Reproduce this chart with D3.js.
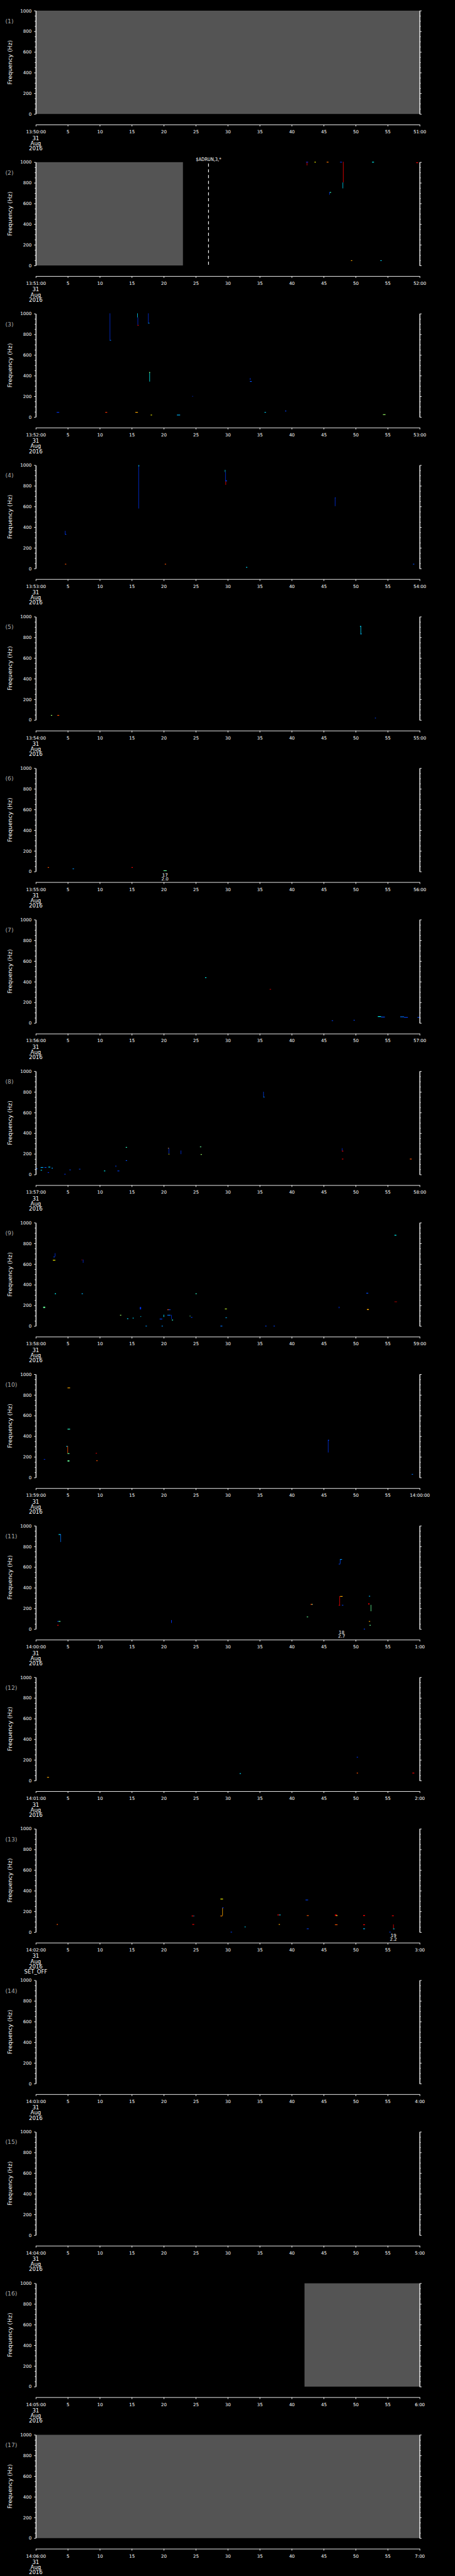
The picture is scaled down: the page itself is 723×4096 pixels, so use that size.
<!DOCTYPE html>
<html>
<head>
<meta charset="utf-8">
<script src="https://cdn.jsdelivr.net/npm/d3@7"></script>
<style>
  body { margin: 0; background: #000; }
  svg { display: block; }
  text { font-family: "DejaVu Sans", sans-serif; fill: #fff; }
</style>
</head>
<body>
<svg id="chart"></svg>
<script>
// ---- data ----
const panelStarts = ['13:50:00','13:51:00','13:52:00','13:53:00','13:54:00','13:55:00','13:56:00','13:57:00','13:58:00',
  '13:59:00','14:00:00','14:01:00','14:02:00','14:03:00','14:04:00','14:05:00','14:06:00'];
const panelEnds = ['51:00','52:00','53:00','54:00','55:00','56:00','57:00','58:00','59:00',
  '14:00:00','1:00','2:00','3:00','4:00','5:00','6:00','7:00'];
const dateLines = ['31', 'Aug', '2016'];
const timeTicks = [0, 5, 10, 15, 20, 25, 30, 35, 40, 45, 50, 55, 60];
const freqTicks = [0, 200, 400, 600, 800, 1000];
const freqMinorTicks = d3.range(0, 1001, 50).filter(f => f % 200 !== 0);

// grey "no data" spans: [panel, t0, t1]
const noData = [[1, 0, 60], [2, 0, 23], [16, 42, 60], [17, 0, 60]];
// event markers: [panel, t, label]
const events = [[2, 27, '$ADRUN,3,*']];
// small two-line notes under the plot: [panel, t, line1, line2]
const notes = [[6, 20.2, '17', '2.0'], [11, 47.8, '18', '2.7'], [13, 55.9, '19', '2.2']];
const footNotes = [[13, 'SET_OFF']];

// signal pixels per panel: [t0, t1, fLow, fHigh, level 0..1]
const sig02 = [[42.4,42.4,965,1000,0.9],[42.3,42.6,1000,1000,0.15],[43.6,43.8,1000,1000,0.75],[45.5,45.8,1000,1000,0.83],
  [45.9,45.9,681,707,0.15],[46.0,46.2,707,707,0.55],[47.6,47.9,1000,1000,0.15],[48.05,48.05,800,1000,0.9],
  [48.0,48.0,743,800,0.45],[52.6,52.9,1000,1000,0.5],[59.5,59.8,995,995,0.9],[49.3,49.5,47,47,0.8],[53.9,54.1,47,47,0.45]];
const sig03 = [[11.6,11.6,742,1000,0.15],[11.6,11.8,742,742,0.3],[15.9,15.9,960,1000,0.45],[15.95,15.95,887,960,0.15],
  [15.95,16.1,887,887,0.9],[17.6,17.6,908,1000,0.15],[17.6,17.8,908,908,0.35],[17.8,17.8,339,431,0.5],
  [17.75,17.9,431,431,0.65],[33.5,33.5,355,374,0.15],[33.5,33.8,344,344,0.25],[24.5,24.6,200,200,0.15],
  [3.3,3.7,45,45,0.15],[10.9,11.2,45,45,0.87],[15.6,16.0,45,45,0.8],[18.0,18.2,19,19,0.75],[22.1,22.6,19,19,0.4],
  [35.8,36.0,45,45,0.45],[39.0,39.2,58,58,0.2],[54.3,54.7,23,23,0.65]];
const sig04 = [[16.1,16.1,577,997,0.15],[16.1,16.2,985,997,0.45],[29.6,29.6,930,952,0.45],[29.65,29.65,842,930,0.15],
  [29.7,29.7,806,842,0.9],[29.7,29.9,840,850,0.2],[46.8,46.8,600,684,0.15],[46.8,46.9,684,684,0.2],
  [4.6,4.6,331,361,0.15],[4.6,4.8,331,331,0.2],[4.6,4.8,42,42,0.85],[20.2,20.4,42,42,0.85],[32.9,33.1,11,11,0.45],
  [59.0,59.2,42,42,0.25]];
const sig05 = [[50.8,50.8,826,906,0.45],[50.7,50.9,906,906,0.45],[50.8,50.95,826,835,0.4],[2.4,2.6,45,45,0.65],
  [3.4,3.7,45,45,0.85],[53.05,53.2,19,19,0.2]];
const sig06 = [[1.9,2.1,39,39,0.85],[5.8,6.0,26,26,0.35],[15.0,15.2,39,39,0.9],[20.0,20.5,8,8,0.6]];
const sig07 = [[26.5,26.7,439,439,0.5],[36.6,36.8,326,326,0.95],[46.3,46.5,23,23,0.2],[49.7,49.9,27,27,0.2],
  [53.5,54.0,62,62,0.5],[54.0,54.6,58,58,0.25],[57.0,57.6,60,60,0.3],[57.6,58.2,52,55,0.2],[59.7,60,55,55,0.25]];
const sig08 = [[35.6,35.6,750,798,0.2],[35.6,35.8,750,750,0.3],[14.1,14.3,263,263,0.55],[14.1,14.3,135,135,0.25],
  [20.8,20.8,197,255,0.15],[20.7,20.8,255,255,0.8],[20.8,20.9,197,197,0.75],[22.7,22.7,194,229,0.15],
  [25.7,25.9,268,268,0.6],[25.8,26.0,194,194,0.65],[47.9,47.9,227,252,0.15],[47.9,48.1,227,227,0.9],
  [47.9,48.1,150,150,0.9],[58.5,58.8,150,150,0.85],[0.1,0.3,48,56,0.3],[0.8,1.2,68,68,0.4],[1.4,1.7,68,68,0.25],
  [2.0,2.3,72,72,0.45],[2.5,2.7,55,62,0.35],[0.8,1.0,42,42,0.45],[1.9,2.1,19,19,0.15],[4.5,4.7,3,3,0.15],
  [5.3,5.5,39,45,0.2],[6.8,7.0,52,52,0.2],[10.7,10.9,35,35,0.5],[12.5,12.6,71,84,0.2],[12.8,13.1,35,35,0.2]];
const sig09 = [[3.0,3.0,669,702,0.15],[2.8,3.0,669,669,0.2],[2.7,3.1,637,637,0.75],[7.2,7.3,640,640,0.95],
  [7.4,7.4,608,640,0.15],[3.0,3.2,306,313,0.5],[7.2,7.4,313,313,0.4],[1.2,1.5,171,184,0.6],[16.3,16.5,158,181,0.15],
  [20.6,21.1,152,158,0.2],[20.6,20.8,158,158,0.85],[13.2,13.4,105,105,0.65],[14.3,14.5,71,71,0.45],
  [15.2,15.3,68,79,0.45],[16.4,16.5,92,92,0.45],[19.4,19.8,68,68,0.2],[20.0,20.1,84,106,0.45],[20.6,21.1,100,105,0.3],
  [21.2,21.2,63,105,0.15],[21.3,21.5,55,58,0.55],[24.1,24.2,97,97,0.6],[24.3,24.5,81,84,0.2],[25.0,25.2,313,313,0.55],
  [29.6,29.9,166,166,0.7],[29.7,29.9,81,81,0.4],[17.2,17.4,0,0,0.35],[19.7,19.9,0,0,0.35],[28.9,29.2,0,0,0.3],
  [35.9,36.1,0,0,0.2],[37.2,37.4,0,0,0.2],[47.4,47.5,169,184,0.15],[51.7,52.0,311,318,0.25],[51.8,52.1,152,161,0.8],
  [56.1,56.4,879,879,0.5],[56.1,56.5,235,235,1.0]];
const sig10 = [[5.0,5.4,868,868,0.8],[5.0,5.4,465,469,0.55],[4.8,5.0,302,302,0.45],[5.0,5.0,232,302,0.85],
  [5.0,5.3,232,232,0.6],[9.4,9.6,235,235,0.95],[5.0,5.3,152,163,0.6],[9.5,9.7,163,163,0.85],[1.3,1.5,176,176,0.15],
  [45.7,45.7,239,361,0.15],[45.7,45.9,361,361,0.2],[58.8,59.0,31,31,0.3]];
const sig11 = [[3.6,3.9,915,915,0.45],[3.9,3.9,839,915,0.3],[47.6,47.6,629,674,0.25],[47.6,47.9,674,674,0.35],
  [47.4,47.6,629,629,0.2],[47.5,47.5,231,315,0.9],[47.6,48.0,316,316,0.8],[47.4,47.6,231,231,0.9],
  [47.9,48.1,231,231,0.2],[52.1,52.3,318,318,0.4],[52.0,52.2,235,245,0.9],[52.4,52.4,169,231,0.6],
  [43.0,43.3,231,239,0.85],[43.2,43.3,239,239,0.55],[42.4,42.6,118,118,0.6],[3.4,3.6,74,74,0.15],[3.6,3.9,74,74,0.6],
  [3.4,3.6,37,37,0.9],[21.2,21.3,56,84,0.15],[52.1,52.3,74,74,0.8],[52.2,52.4,37,37,0.6],[51.3,51.5,0,0,0.2]];
const sig12 = [[50.2,50.4,226,226,0.15],[1.8,2.1,31,31,0.8],[31.9,32.1,68,68,0.45],[50.2,50.4,73,73,0.85],
  [58.9,59.2,73,73,0.9]];
const sig13 = [[3.3,3.5,74,74,0.85],[24.4,24.7,153,156,0.9],[24.7,24.8,156,156,0.4],[24.5,24.8,74,74,0.9],
  [28.9,29.3,316,320,0.75],[29.2,29.2,156,235,0.8],[29.2,29.4,235,235,0.15],[28.9,29.2,156,156,0.82],
  [30.5,30.7,0,0,0.2],[32.7,32.8,42,52,0.45],[37.8,38.1,160,166,0.9],[38.1,38.3,166,166,0.45],[38.0,38.2,74,74,0.8],
  [42.2,42.6,311,311,0.2],[42.4,42.7,153,160,0.85],[42.4,42.7,32,32,0.2],[46.8,47.1,153,166,0.9],
  [47.0,47.2,160,160,0.7],[46.8,47.2,71,71,0.85],[51.2,51.5,153,161,0.9],[51.2,51.5,71,71,0.9],
  [51.2,51.5,32,32,0.4],[55.7,56.0,158,158,0.9],[55.9,55.9,31,71,0.9],[55.9,56.1,31,31,0.45],[55.3,55.5,0,0,0.2]];
const signals = [[], sig02, sig03, sig04, sig05, sig06, sig07, sig08, sig09, sig10, sig11, sig12, sig13, [], [], [], []];

// ---- layout (reference pixels; viewBox scales to the window) ----
const W = 1024, H = 5802;
const top0 = 24, step = 341.25, plotH = 232.7, axisGap = 24;

const svg = d3.select('#chart')
    .attr('width', 723)
    .attr('height', 4096)
    .attr('viewBox', `0 0 ${W} ${H}`);

svg.append('rect').attr('width', W).attr('height', H).attr('fill', '#000');

const x = d3.scaleLinear().domain([0, 60]).range([80.5, 944.5]);
const y = d3.scaleLinear().domain([0, 1000]).range([plotH, 0]);
const color = d3.scaleLinear()
    .domain([0, 0.25, 0.5, 0.75, 0.9, 1])
    .range(['#0000c0', '#0050ff', '#00ffff', '#ffff00', '#ff0000', '#900000']);

function styleAxis(g) {
  g.selectAll('path, line').attr('stroke', '#fff').attr('stroke-width', 1.3);
  g.selectAll('text').attr('fill', '#fff').attr('font-family', '"DejaVu Sans", sans-serif');
}

panelStarts.forEach((startLabel, i) => {
  const k = i + 1;
  const g = svg.append('g').attr('transform', `translate(0,${top0 + i * step})`);

  // grey no-data blocks
  noData.filter(d => d[0] === k).forEach(d => {
    g.append('rect')
        .attr('x', x(d[1])).attr('width', x(d[2]) - x(d[1]))
        .attr('y', 0).attr('height', plotH)
        .attr('fill', '#545454');
  });

  // spectrogram pixels
  g.append('g').selectAll('rect')
      .data(signals[i])
      .join('rect')
      .attr('x', d => x(d[0]) - 0.55)
      .attr('width', d => Math.max(x(d[1]) - x(d[0]), 1.1))
      .attr('y', d => y(d[3]) - 0.8)
      .attr('height', d => Math.max(y(d[2]) - y(d[3]), 1.6))
      .attr('fill', d => color(d[4]));

  // event markers
  events.filter(d => d[0] === k).forEach(d => {
    g.append('line')
        .attr('x1', x(d[1])).attr('x2', x(d[1]))
        .attr('y1', 3).attr('y2', plotH)
        .attr('stroke', '#fff').attr('stroke-width', 1.6)
        .attr('stroke-dasharray', '7,6');
    g.append('text')
        .attr('x', x(d[1])).attr('y', -3)
        .attr('text-anchor', 'middle')
        .attr('font-size', 11)
        .attr('textLength', 57).attr('lengthAdjust', 'spacingAndGlyphs')
        .text(d[2]);
  });

  // left axis
  const yMajor = d3.axisLeft(y).tickValues(freqTicks).tickSize(4).tickSizeOuter(0).tickPadding(5.5)
      .tickFormat(d3.format('d'));
  const yl = g.append('g').attr('transform', `translate(${x(0)},0)`).attr('font-size', 12).call(yMajor);
  styleAxis(yl);
  const ylm = g.append('g').attr('transform', `translate(${x(0)},0)`)
      .call(d3.axisLeft(y).tickValues(freqMinorTicks).tickSize(2.5).tickSizeOuter(0).tickFormat(''));
  styleAxis(ylm);

  // right axis
  const yr = g.append('g').attr('transform', `translate(${x(60)},0)`)
      .call(d3.axisRight(y).tickValues(freqTicks).tickSize(4.5).tickSizeOuter(0).tickFormat(''));
  styleAxis(yr);
  const yrm = g.append('g').attr('transform', `translate(${x(60)},0)`)
      .call(d3.axisRight(y).tickValues(freqMinorTicks).tickSize(2.5).tickSizeOuter(0).tickFormat(''));
  styleAxis(yrm);

  // time axis (detached below the plot)
  const axisY = plotH + axisGap;
  const xAxis = d3.axisBottom(x)
      .tickValues(timeTicks)
      .tickSize(4).tickSizeOuter(0).tickPadding(8.5)
      .tickFormat(t => t === 0 ? startLabel : t === 60 ? panelEnds[i] : String(t));
  const xa = g.append('g').attr('transform', `translate(0,${axisY})`).attr('font-size', 12).call(xAxis);
  styleAxis(xa);

  const dateG = g.append('g').attr('font-size', 12).attr('text-anchor', 'middle');
  dateLines.forEach((s, j) => {
    dateG.append('text').attr('x', x(0)).attr('y', axisY + 34.5 + j * 11.5).text(s);
  });
  footNotes.filter(d => d[0] === k).forEach(d => {
    dateG.append('text').attr('x', x(0)).attr('y', axisY + 34.5 + 3 * 11.5).text(d[1]);
  });

  // small notes under plot
  notes.filter(d => d[0] === k).forEach(d => {
    const ng = g.append('g').attr('font-size', 10).attr('text-anchor', 'middle');
    ng.append('text').attr('x', x(d[1])).attr('y', plotH + 11).text(d[2]);
    ng.append('text').attr('x', x(d[1])).attr('y', plotH + 20).text(d[3]);
  });

  // panel number and y title
  g.append('text')
      .attr('x', 12).attr('y', 28)
      .attr('font-size', 13)
      .style('fill', '#aaa')
      .text(`(${k})`);
  g.append('text')
      .attr('transform', `translate(27,${plotH / 2}) rotate(-90)`)
      .attr('text-anchor', 'middle')
      .attr('font-size', 13)
      .attr('textLength', 100).attr('lengthAdjust', 'spacingAndGlyphs')
      .text('Frequency (Hz)');
});
</script>
</body>
</html>
